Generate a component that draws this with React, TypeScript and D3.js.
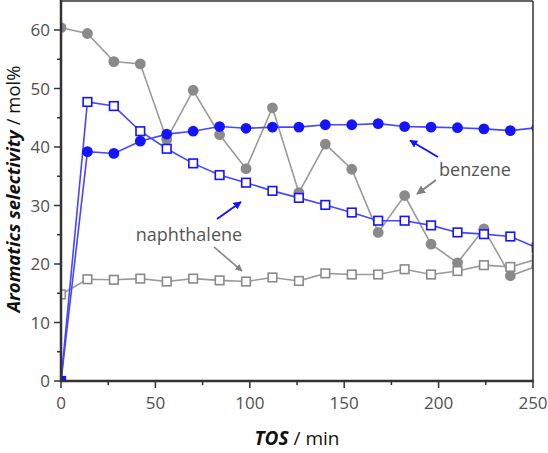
import React from "react";
import * as d3 from "d3";

const tos = [0, 14, 28, 42, 56, 70, 84, 98, 112, 126, 140, 154, 168, 182, 196, 210, 224, 238, 252];
const benzeneBlue = [0, 39.2, 38.9, 41.0, 42.2, 42.7, 43.5, 43.2, 43.4, 43.4, 43.8, 43.8, 44.0, 43.5, 43.4, 43.3, 43.1, 42.8, 43.3];
const benzeneGray = [60.4, 59.4, 54.6, 54.2, 41.3, 49.7, 42.1, 36.3, 46.7, 32.2, 40.5, 36.2, 25.4, 31.7, 23.4, 20.2, 26.0, 18.0, 19.6];
const naphBlue = [0, 47.7, 47.0, 42.7, 39.7, 37.2, 35.2, 33.9, 32.5, 31.3, 30.1, 28.8, 27.4, 27.4, 26.6, 25.4, 25.1, 24.7, 22.8];
const naphGray = [14.8, 17.4, 17.3, 17.5, 17.0, 17.5, 17.2, 17.0, 17.7, 17.1, 18.4, 18.2, 18.2, 19.1, 18.2, 18.8, 19.8, 19.5, 20.8];
const xTicks = [0, 50, 100, 150, 200, 250];
const xMinor = [25, 75, 125, 175, 225];
const yTicks = [0, 10, 20, 30, 40, 50, 60];
const yMinor = [5, 15, 25, 35, 45, 55];

const W = 548, H = 453;
const L = 61, R = 533, T = 1, B = 381;
const BLUE = "#1414ff";
const BLUE_LINE = "#4646ff";
const GRAY = "#8a8a8a";
const GRAY_LINE = "#9a9a9a";
const FONT = "'Open Sans', 'Noto Sans', sans-serif";

export default function App() {
  const x = d3.scaleLinear().domain([0, 250]).range([L, R]);
  const y = d3.scaleLinear().domain([0, 65]).range([B, B - 65 * 5.85]);
  const line = d3.line<number>().x((_, i) => x(tos[i])).y((d) => y(d));

  const circles = (vals: number[], color: string) =>
    vals.map((v, i) => <circle key={i} cx={x(tos[i])} cy={y(v)} r={5.4} fill={color} />);
  const squares = (vals: number[], color: string) =>
    vals.map((v, i) => (
      <rect key={i} x={x(tos[i]) - 4.3} y={y(v) - 4.3} width={8.6} height={8.6} fill="white" stroke={color} strokeWidth={1.6} />
    ));

  return (
    <svg width={W} height={H} style={{ position: "absolute", left: 0, top: 0, background: "white" }} fontFamily={FONT}>
      <defs>
        <clipPath id="plot">
          <rect x={L} y={T} width={R - L} height={B - T} />
        </clipPath>
        <marker id="ahBlue" viewBox="0 0 10 10" refX="9" refY="5" markerWidth="4" markerHeight="4" orient="auto">
          <path d="M0,0 L10,5 L0,10 z" fill={BLUE} />
        </marker>
        <marker id="ahGray" viewBox="0 0 10 10" refX="9" refY="5" markerWidth="4.5" markerHeight="4.5" orient="auto">
          <path d="M0,0 L10,5 L0,10 z" fill="#808080" />
        </marker>
      </defs>
      <rect width={W} height={H} fill="white" />
      <g clipPath="url(#plot)">
        <path d={line(benzeneGray) || ""} fill="none" stroke={GRAY_LINE} strokeWidth={1.6} />
        <path d={line(naphGray) || ""} fill="none" stroke={GRAY_LINE} strokeWidth={1.6} />
        <path d={line(naphBlue) || ""} fill="none" stroke={BLUE_LINE} strokeWidth={1.6} />
        <path d={line(benzeneBlue) || ""} fill="none" stroke={BLUE_LINE} strokeWidth={1.6} />
        {circles(benzeneGray, GRAY)}
        {squares(naphGray, GRAY)}
        {squares(naphBlue, BLUE)}
        {circles(benzeneBlue, BLUE)}
      </g>
      {/* frame */}
      <line x1={L} x2={R} y1={T} y2={T} stroke="#333" strokeWidth={1.5} />
      <line x1={R} x2={R} y1={T} y2={B} stroke="#333" strokeWidth={1.5} />
      <line x1={L} x2={L} y1={T - 1} y2={B + 1} stroke="#333" strokeWidth={2.5} />
      <line x1={L - 1} x2={R + 1} y1={B} y2={B} stroke="#333" strokeWidth={2.5} />
      {/* x ticks */}
      {xTicks.map((t) => (
        <g key={t}>
          <line x1={x(t)} x2={x(t)} y1={B} y2={B + 7} stroke="#333" strokeWidth={1.5} />
          <text x={x(t)} y={409} textAnchor="middle" fontSize={17} fill="#505050">{t}</text>
        </g>
      ))}
      {xMinor.map((t) => (
        <line key={t} x1={x(t)} x2={x(t)} y1={B} y2={B + 4} stroke="#333" strokeWidth={1.5} />
      ))}
      {/* y ticks */}
      {yTicks.map((t) => (
        <g key={t}>
          <line x1={L - 7} x2={L} y1={y(t)} y2={y(t)} stroke="#333" strokeWidth={1.5} />
          <text x={50} y={y(t) + 6} textAnchor="end" fontSize={17} fill="#505050">{t}</text>
        </g>
      ))}
      {yMinor.map((t) => (
        <line key={t} x1={L - 4} x2={L} y1={y(t)} y2={y(t)} stroke="#333" strokeWidth={1.5} />
      ))}
      {/* axis titles */}
      <text x={297} y={445} textAnchor="middle" fontSize={19} fill="#111">
        <tspan fontWeight="bold" fontStyle="italic">TOS</tspan>
        <tspan> / min</tspan>
      </text>
      <text transform="translate(20,189) rotate(-90)" textAnchor="middle" fontSize={18.5} fill="#111">
        <tspan fontWeight="bold" fontStyle="italic">Aromatics selectivity</tspan>
        <tspan> / mol%</tspan>
      </text>
      {/* annotations */}
      <text x={475} y={176} textAnchor="middle" fontSize={18} fill="#555">benzene</text>
      <line x1={438} y1={157} x2={410} y2={140.5} stroke={BLUE} strokeWidth={2} markerEnd="url(#ahBlue)" />
      <line x1={436} y1={180} x2={417} y2={194} stroke="#808080" strokeWidth={2} markerEnd="url(#ahGray)" />
      <text x={189} y={241} textAnchor="middle" fontSize={18} fill="#555">naphthalene</text>
      <line x1={217} y1={219} x2={241} y2={202} stroke={BLUE} strokeWidth={2} markerEnd="url(#ahBlue)" />
      <line x1={214} y1={247} x2={242} y2={271} stroke="#808080" strokeWidth={1.6} markerEnd="url(#ahGray)" />
    </svg>
  );
}
